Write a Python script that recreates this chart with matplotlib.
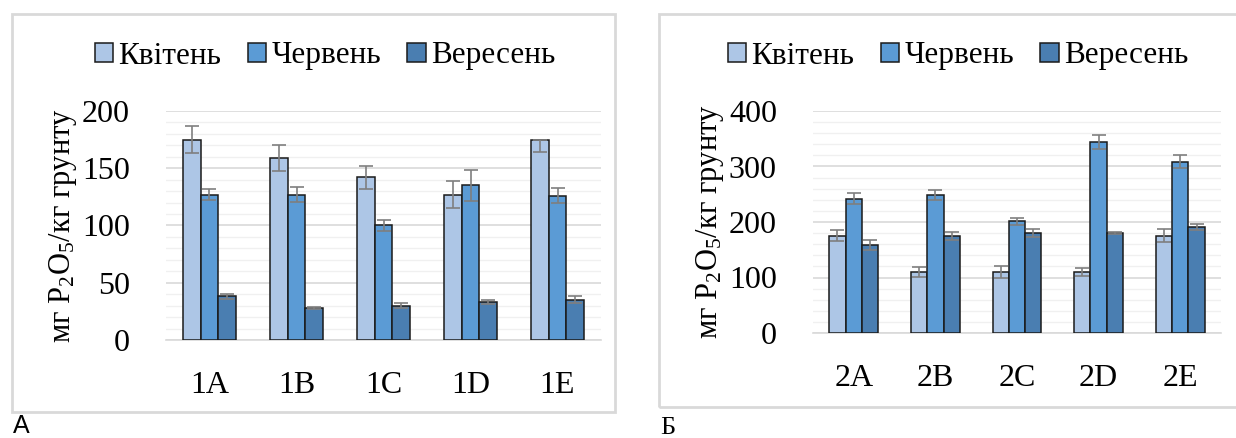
import numpy as np
import matplotlib.pyplot as plt
from matplotlib.patches import Rectangle

plt.rcParams['font.family'] = ['Liberation Serif', 'DejaVu Serif']
plt.rcParams['mathtext.fontset'] = 'custom'
plt.rcParams['mathtext.rm'] = 'Liberation Serif'
plt.rcParams['mathtext.it'] = 'Liberation Serif:italic'

months = ['Квітень', 'Червень', 'Вересень']
colors = ['#adc6e6', '#5b9bd5', '#4a7eb1']

sites_a = ['1A', '1B', '1C', '1D', '1E']
april_a = [175, 159, 142, 127, 175]
june_a = [127, 127, 100, 135, 126]
sept_a = [38, 28, 30, 33, 35]
april_a_err_lo = [12, 11, 10, 12, 11]
april_a_err_hi = [12, 11, 10, 12, 0]
june_a_err = [5, 6.5, 5, 13.5, 6.5]
sept_a_err = [2, 1, 2, 1.5, 3]

sites_b = ['2A', '2B', '2C', '2D', '2E']
april_b = [175, 110, 110, 110, 175]
june_b = [242, 249, 201, 344, 309]
sept_b = [159, 175, 180, 180, 191]
april_b_err = [10, 9, 11, 7.5, 11.5]
june_b_err = [10, 8.5, 7, 12, 12]
sept_b_err = [9, 7, 7, 2, 5.5]

W, H = 1236, 438
fig = plt.figure(figsize=(W / 100, H / 100), dpi=100)


def px_axes(left, top, right, bottom):
    return fig.add_axes([left / W, 1 - bottom / H, (right - left) / W, (bottom - top) / H])


def panel(ax, cats, series, errs, ymax, major, minor, ylabel):
    x = np.arange(len(cats))
    width = 0.2
    for i, (vals, err) in enumerate(zip(series, errs)):
        ax.bar(x + (i - 1) * width, vals, width, color=colors[i], edgecolor='#1a1a1a',
               linewidth=1.1, yerr=err, error_kw=dict(ecolor='#7f7f7f', elinewidth=1.2,
               capsize=5, capthick=1.2), label=months[i], zorder=3)
    ax.set_xlim(-0.5, len(cats) - 0.5)
    ax.set_ylim(0, ymax)
    ax.set_yticks(np.arange(0, ymax + 1, major))
    ax.set_yticks(np.arange(0, ymax + 1, minor), minor=True)
    ax.grid(axis='y', which='major', color='#d9d9d9', linewidth=1.2, zorder=0)
    ax.grid(axis='y', which='minor', color='#f0f0f0', linewidth=1.0, zorder=0)
    ax.set_xticks(x)
    ax.set_xticklabels(cats)
    ax.tick_params(axis='both', which='both', length=0, labelsize=23)
    ax.tick_params(axis='y', pad=26)
    ax.tick_params(axis='x', pad=22)
    for s in ['top', 'right', 'left']:
        ax.spines[s].set_visible(False)
    ax.spines['bottom'].set_color('#d9d9d9')
    ax.spines['bottom'].set_linewidth(1.2)
    ax.set_ylabel(ylabel, fontsize=22, labelpad=2)
    ax.set_axisbelow(True)


ylabel = 'мг P$_2$O$_5$/кг грунту'

# panel frames
fig.patches.append(Rectangle((12 / W, 1 - 412 / H), 603 / W, 398 / H, transform=fig.transFigure,
                             fill=False, edgecolor='#d9d9d9', linewidth=2))
fig.patches.append(Rectangle((659 / W, 1 - 407 / H), 600 / W, 393 / H, transform=fig.transFigure,
                             fill=False, edgecolor='#d9d9d9', linewidth=2))

ax1 = px_axes(166, 111, 601, 340)
panel(ax1, sites_a, [april_a, june_a, sept_a],
      [[april_a_err_lo, april_a_err_hi], june_a_err, sept_a_err], 200, 50, 10, ylabel)

ax2 = px_axes(813, 111, 1221, 333)
panel(ax2, sites_b, [april_b, june_b, sept_b],
      [april_b_err, june_b_err, sept_b_err], 400, 100, 20, ylabel)

for ax, cx in [(ax1, 325), (ax2, 958)]:
    ax.legend(loc='center', bbox_to_anchor=(cx / W, 1 - 56 / H), bbox_transform=fig.transFigure,
              ncol=3, frameon=False, fontsize=22.5, handlelength=0.6, handleheight=0.6,
              handletextpad=0.15, columnspacing=0.85)

fig.text(13 / W, 1 - 433 / H, 'А', fontsize=18, family='Liberation Sans', va='baseline')
fig.text(660 / W, 1 - 434 / H, 'Б', fontsize=19, va='baseline')

fig.savefig('out.png', dpi=100)
